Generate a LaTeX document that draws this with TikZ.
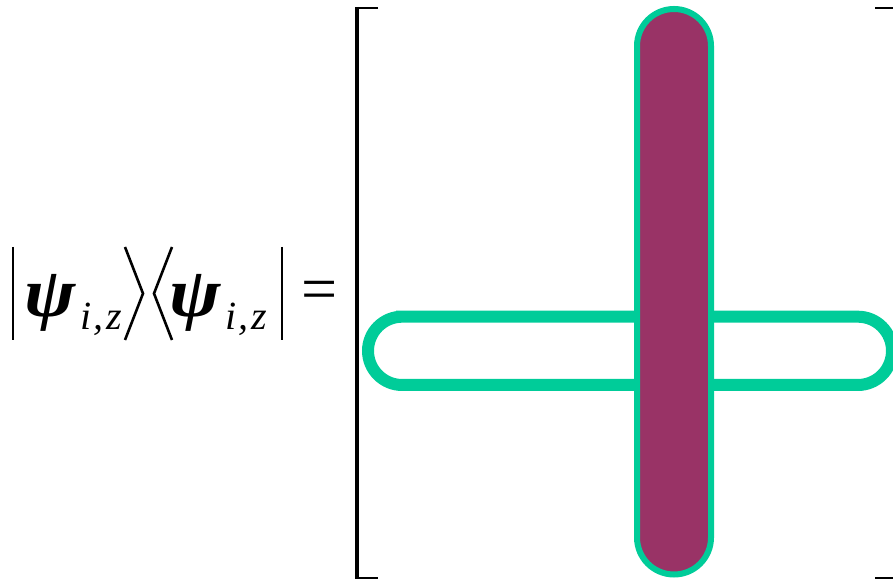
\documentclass[tikz,border=0pt]{standalone}
\usepackage{fontspec}
\usepackage{graphicx}
\setmainfont{Liberation Serif}
\definecolor{ringgreen}{RGB}{0,204,153}
\definecolor{barplum}{RGB}{153,51,102}
\newcommand{\psisub}{\makebox[56pt][l]{\fontsize{70}{70}\selectfont\bfseries\itshape\scalebox{1.1}[1]{ψ}}\raisebox{-13pt}{\fontsize{40}{40}\selectfont\itshape i\kern2pt,\kern3pt z}}
\begin{document}
\begin{tikzpicture}[x=1pt,y=1pt,
  delim/.style={line width=2.6pt,black},
  psiterm/.style={inner sep=0pt,anchor=base west},
  eqsign/.style={inner sep=0pt,anchor=base west,font=\fontsize{64}{64}\selectfont},
  bracket/.style={line width=2.2pt,black},
  ring/.style={draw=ringgreen,line width=12pt},
  rod/.style={draw=ringgreen,line width=6pt,fill=barplum}]
\useasboundingbox (0,0) rectangle (893,580);
\clip (0,0) rectangle (893,580);
% left-hand side
\draw[delim] (13,333) -- (13,240);
\node[psiterm] (psiA) at (24,263) {\psisub};
\draw[delim] (125,333) -- (143,286.5) -- (125,240);
\draw[delim] (172,333) -- (154,286.5) -- (172,240);
\node[psiterm] (psiB) at (169,263) {\psisub};
\draw[delim] (282,333) -- (282,240);
\node[eqsign] (eq) at (301,269) {=};
% matrix brackets
\draw[bracket] (378,572) -- (357,572) -- (357,2) -- (378,2);
\draw[line width=4pt] (357,573) -- (357,1);
\draw[bracket] (875,572) -- (896,572) -- (896,2) -- (875,2);
% horizontal ring
\draw[ring] (402.15,263.3) -- (857.85,263.3) arc[start angle=90,end angle=-90,radius=34.15]
  -- (402.15,195) arc[start angle=270,end angle=90,radius=34.15] -- cycle;
% vertical rod
\draw[rod] (637,534) -- (637,42.5) arc[start angle=180,end angle=360,radius=37]
  -- (711,534) arc[start angle=0,end angle=180,radius=37] -- cycle;
\end{tikzpicture}
\end{document}
